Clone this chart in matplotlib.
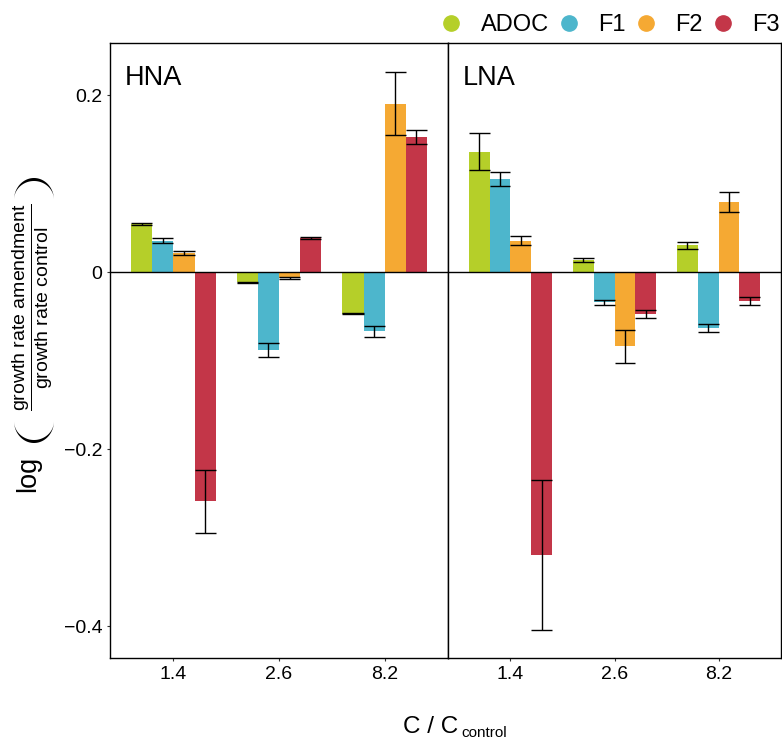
import numpy as np
import matplotlib
matplotlib.use('Agg')
from matplotlib import pyplot as plt
from matplotlib.lines import Line2D
from matplotlib.patches import Polygon

plt.rcParams['font.family'] = ['Liberation Sans', 'DejaVu Sans']
plt.rcParams['mathtext.fontset'] = 'custom'
plt.rcParams['mathtext.rm'] = 'Liberation Sans'
plt.rcParams['mathtext.it'] = 'Liberation Sans:italic'

# dose levels and treatments
doses = ['1.4', '2.6', '8.2']
treatments = ['ADOC', 'F1', 'F2', 'F3']
colors = ['#B5CF29', '#4DB6CC', '#F5A933', '#C33648']

# log ratio of growth rates, one row per treatment (ADOC, F1, F2, F3)
hna_mean = [[0.0545, -0.0113, -0.047],
            [0.0357, -0.0878, -0.0667],
            [0.0215, -0.0065, 0.1905],
            [-0.259, 0.039, 0.1527]]
hna_se = [[0.0015, 0.0005, 0.0005],
          [0.003, 0.0075, 0.006],
          [0.0023, 0.001, 0.036],
          [0.036, 0.001, 0.0077]]

lna_mean = [[0.136, 0.0137, 0.0306],
            [0.105, -0.034, -0.0627],
            [0.0356, -0.0838, 0.079],
            [-0.320, -0.047, -0.0328]]
lna_se = [[0.021, 0.002, 0.004],
          [0.0077, 0.0027, 0.0047],
          [0.005, 0.0185, 0.0113],
          [0.0847, 0.0043, 0.0045]]

W, H = 782, 739
fig = plt.figure(figsize=(W / 100, H / 100), dpi=100)
ax1 = fig.add_axes([110 / W, 1 - 658 / H, 338 / W, 615 / H])
ax2 = fig.add_axes([448 / W, 1 - 658 / H, 333 / W, 615 / H])

bw = 0.2
x = np.arange(1, len(doses) + 1)

def panel(ax, mean, se, title):
    for j in range(len(treatments)):
        xs = x + (j - 1.5) * bw
        m = np.array(mean[j])
        s = np.array(se[j])
        ax.bar(xs, m, width=bw, color=colors[j], linewidth=0, zorder=2)
        ax.vlines(xs, m - s, m + s, color='black', lw=1, zorder=3)
        ax.hlines(m - s, xs - bw / 2, xs + bw / 2, color='black', lw=1, zorder=3)
        ax.hlines(m + s, xs - bw / 2, xs + bw / 2, color='black', lw=1, zorder=3)
    ax.axhline(0, color='black', lw=1, zorder=4)
    ax.set_xlim(0.4, 3.6)
    ax.set_ylim(-0.436, 0.259)
    ax.set_xticks(x)
    ax.set_xticklabels(doses, fontsize=14)
    ax.set_yticks([-0.4, -0.2, 0, 0.2])
    ax.set_yticklabels(['\u22120.4', '\u22120.2', '0', '0.2'], fontsize=14)
    ax.tick_params(direction='out', length=2.5, width=0.8, color='#333333', pad=3)
    for sp in ax.spines.values():
        sp.set_linewidth(1)
        sp.set_color('black')
    ax.text(0.045, 0.965, title, transform=ax.transAxes, fontsize=19.5,
            ha='left', va='top')

panel(ax1, hna_mean, hna_se, 'HNA')
panel(ax2, lna_mean, lna_se, 'LNA')
ax2.tick_params(axis='y', left=False, labelleft=False)

# y label: "log", a stretched bracket pair and the growth rate ratio
fig.text(28 / W, 1 - 474 / H, 'log', fontsize=19.5, rotation=90,
         ha='center', va='center')
fig.text(33 / W, 1 - 307 / H,
         r'$\dfrac{\mathrm{growth\ rate\ amendment}}{\mathrm{growth\ rate\ control}}$',
         fontsize=14, rotation=90, ha='center', va='center')

def bracket(cx, cy, direction):
    # crescent shaped bracket, drawn in pixel units, bulging up (-1) or down (+1)
    t = np.linspace(0, np.pi, 60)
    a, b_out, b_in = 20, 22, 19
    outer = np.column_stack([cx + a * np.cos(t), cy + direction * b_out * np.sin(t)])
    inner = np.column_stack([cx + a * np.cos(t[::-1]), cy + direction * b_in * np.sin(t[::-1])])
    pts = np.vstack([outer, inner])
    pts = np.column_stack([pts[:, 0] / W, 1 - pts[:, 1] / H])
    fig.patches.append(Polygon(pts, closed=True, transform=fig.transFigure,
                               facecolor='black', edgecolor='none'))

bracket(34, 200, -1)
bracket(34, 421, 1)

# x label with subscript
fig.text(431 / W, 1 - 727 / H, 'C / C', fontsize=17.5, ha='center', va='center')
fig.text(461 / W, 1 - 733 / H, 'control', fontsize=11, ha='left', va='center')

handles = [Line2D([], [], marker='o', linestyle='none', markersize=11,
                  markerfacecolor=c, markeredgecolor=c) for c in colors]
fig.legend(handles, treatments, loc='center right', bbox_to_anchor=(780 / W, 1 - 25 / H),
           ncol=4, frameon=False, fontsize=17, handlelength=0.9,
           handletextpad=0.8, columnspacing=0.4, borderaxespad=0, borderpad=0)

fig.savefig('out.png', dpi=100)
